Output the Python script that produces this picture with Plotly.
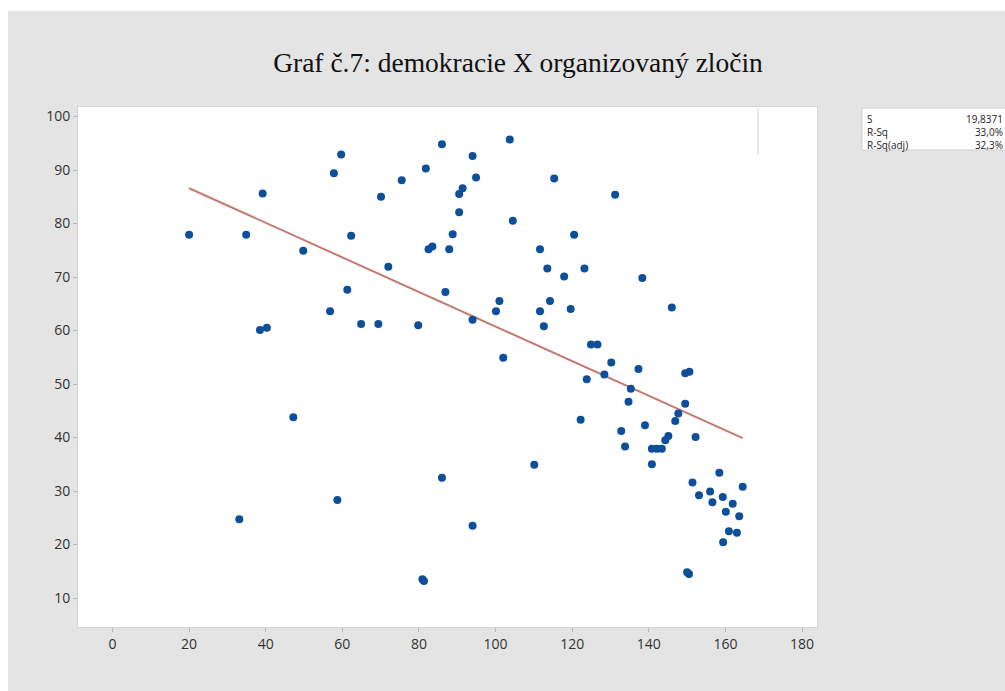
import numpy as np
import plotly.graph_objects as go

# Scatter data (democracy index vs organized crime)
demokracie = [59.7, 57.8, 39.2, 20.0, 34.9, 62.3, 49.8, 61.3, 56.8, 38.5, 40.3,
              86.0, 94.0, 103.7, 81.8, 75.5, 94.9, 115.3, 70.1, 91.4, 90.5, 90.5,
              104.5, 88.8, 120.5, 82.5, 83.5, 87.9, 111.6, 72.0, 113.5, 123.2,
              117.9, 86.9, 101.0, 100.1, 114.2, 111.6, 119.6, 112.6, 64.9, 69.4,
              79.8, 94.0, 131.2, 138.3, 146.0, 124.9, 126.6, 47.2, 58.7, 33.1,
              102.0, 123.8, 122.2, 110.1, 86.0, 94.0, 81.3, 80.9, 130.2, 137.3,
              128.4, 149.5, 150.6, 135.3, 134.7, 149.5, 147.7, 146.9, 132.8, 139.0,
              152.2, 145.1, 144.3, 133.8, 140.8, 142.1, 143.4, 140.8, 158.4, 151.4,
              164.5, 153.1, 156.0, 159.3, 156.6, 161.9, 160.1, 163.6, 160.9, 163.0,
              159.4, 150.5, 150.0]
zlocin = [92.9, 89.4, 85.6, 77.9, 77.9, 77.7, 74.9, 67.6, 63.6, 60.1, 60.5,
          94.8, 92.6, 95.7, 90.3, 88.1, 88.6, 88.4, 85.0, 86.6, 85.5, 82.1,
          80.5, 78.0, 77.9, 75.2, 75.7, 75.2, 75.2, 71.9, 71.6, 71.6,
          70.1, 67.2, 65.5, 63.6, 65.5, 63.6, 64.0, 60.8, 61.2, 61.2,
          61.0, 62.0, 85.4, 69.8, 64.3, 57.4, 57.4, 43.8, 28.3, 24.7,
          54.9, 50.9, 43.3, 34.9, 32.5, 23.5, 13.2, 13.5, 54.0, 52.8,
          51.8, 52.0, 52.3, 49.1, 46.7, 46.3, 44.5, 43.1, 41.2, 42.3,
          40.1, 40.3, 39.5, 38.3, 37.9, 37.9, 37.9, 35.0, 33.4, 31.6,
          30.8, 29.2, 29.9, 28.9, 27.9, 27.6, 26.1, 25.3, 22.5, 22.2,
          20.4, 14.5, 14.8]

# Fitted regression line as shown in the chart (intercept, slope)
fit_intercept = 93.06
fit_slope = -0.3232

x_ticks = [0, 20, 40, 60, 80, 100, 120, 140, 160, 180]
y_ticks = [10, 20, 30, 40, 50, 60, 70, 80, 90, 100]
stat_labels = ["S", "R-Sq", "R-Sq(adj)"]
stat_values = ["19,8371", "33,0%", "32,3%"]
title_text = "Graf č.7: demokracie X organizovaný zločin"

fit_x = np.array([min(demokracie), max(demokracie)])
fit_y = fit_intercept + fit_slope * fit_x

W, H = 1005, 691
L, R, T, B = 78, 188, 107, 64
PW, PH = W - L - R, H - T - B

def px_x(p):
    return (p - L) / PW

def px_y(p):
    return (H - B - p) / PH

fig = go.Figure()
fig.add_trace(go.Scatter(
    x=fit_x, y=fit_y, mode="lines",
    line=dict(color="#c47a70", width=2), hoverinfo="skip", showlegend=False))
fig.add_trace(go.Scatter(
    x=demokracie, y=zlocin, mode="markers",
    marker=dict(color="#0d4f9b", size=8, line=dict(width=0)),
    showlegend=False))

tick_font = dict(family="Open Sans, DejaVu Sans, sans-serif", size=14, color="#333333")

fig.update_xaxes(
    range=[-9.0, 183.9], tickvals=x_ticks, ticktext=[str(v) for v in x_ticks],
    ticks="outside", ticklen=4, tickcolor="#b8b8b8", tickfont=tick_font,
    showgrid=False, zeroline=False, showline=True, linecolor="#d4d4d4",
    mirror=True, fixedrange=True)
fig.update_yaxes(
    range=[4.58, 101.78], tickvals=y_ticks, ticktext=[str(v) for v in y_ticks],
    ticks="outside", ticklen=4, tickcolor="#b8b8b8", tickfont=tick_font,
    showgrid=False, zeroline=False, showline=True, linecolor="#d4d4d4",
    mirror=True, fixedrange=True)

shapes = [
    # white page margins around the gray panel
    dict(type="rect", xref="paper", yref="paper", x0=px_x(-5), x1=px_x(W + 5),
         y0=px_y(11), y1=px_y(-5), fillcolor="white", line=dict(width=0), layer="above"),
    dict(type="rect", xref="paper", yref="paper", x0=px_x(-5), x1=px_x(8),
         y0=px_y(H + 5), y1=px_y(-5), fillcolor="white", line=dict(width=0), layer="above"),
    # stats box
    dict(type="rect", xref="paper", yref="paper", x0=px_x(862), x1=px_x(W + 5),
         y0=px_y(150), y1=px_y(108), fillcolor="white",
         line=dict(color="#d0d0d0", width=1), layer="above"),
    # thin separator line inside the plot area
    dict(type="line", xref="paper", yref="paper", x0=px_x(758), x1=px_x(758),
         y0=px_y(155), y1=px_y(108), line=dict(color="#d2d2d2", width=1), layer="above"),
]

stat_font = dict(family="Open Sans, DejaVu Sans, sans-serif", size=10, color="#222222")
annotations = [
    dict(text="<br>".join(stat_labels), x=px_x(865), y=px_y(110), xref="paper", yref="paper",
         xanchor="left", yanchor="top", align="left", showarrow=False, font=stat_font),
    dict(text="<br>".join(stat_values), x=px_x(1005), y=px_y(110), xref="paper", yref="paper",
         xanchor="right", yanchor="top", align="right", showarrow=False, font=stat_font),
]

fig.update_layout(
    width=W, height=H,
    margin=dict(l=L, r=R, t=T, b=B, pad=0),
    paper_bgcolor="#e4e4e4", plot_bgcolor="white",
    title=dict(text=title_text, x=518 / W, xref="container", xanchor="center",
               y=1 - 62 / H, yref="container", yanchor="middle",
               font=dict(family="Liberation Serif, Times New Roman, serif", size=27.5, color="#111111")),
    shapes=shapes, annotations=annotations,
    showlegend=False,
)

fig.write_html("out.html")
